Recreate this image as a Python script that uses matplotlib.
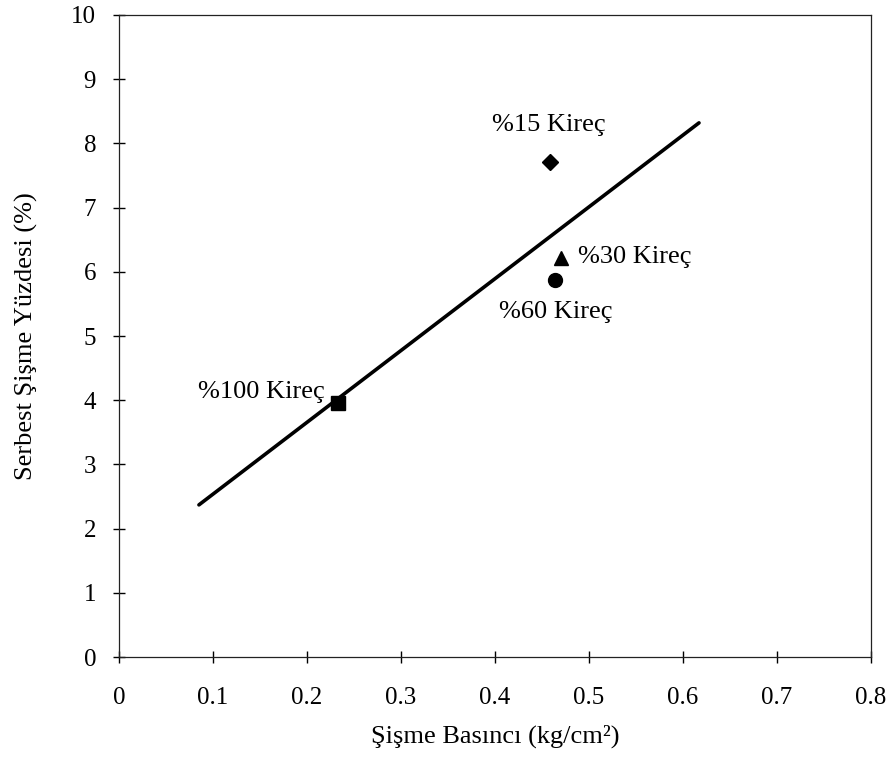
import matplotlib
matplotlib.use('Agg')
import matplotlib.pyplot as plt

plt.rcParams['font.family'] = ['Liberation Serif', 'DejaVu Serif']

# point data (Şişme basıncı, serbest şişme yüzdesi)
labels = ['%15 Kireç', '%30 Kireç', '%60 Kireç', '%100 Kireç']
pressure = [0.459, 0.470, 0.464, 0.233]
swell = [7.71, 6.21, 5.87, 3.96]
markers = ['D', '^', 'o', 's']
marker_sizes = [8.5, 10, 10, 10]

# trend line end points
line_x = [0.085, 0.617]
line_y = [2.37, 8.32]

# label anchor positions
label_x = [0.457, 0.488, 0.465, 0.219]
label_y = [8.29, 6.23, 5.37, 4.13]
label_ha = ['center', 'left', 'center', 'right']

fig = plt.figure(figsize=(8.93, 7.69), dpi=100)
ax = fig.add_axes([0.1333, 0.1456, 0.8421, 0.8349])

ax.plot(line_x, line_y, color='black', linewidth=2.6, solid_capstyle='round')

for x, y, m, ms in zip(pressure, swell, markers, marker_sizes):
    ax.plot(x, y, marker=m, markersize=ms, color='black', linestyle='none', zorder=3)

for lx, ly, txt, ha in zip(label_x, label_y, labels, label_ha):
    ax.text(lx, ly, txt, ha=ha, va='center', fontsize=19)

ax.set_xlim(0, 0.8)
ax.set_ylim(0, 10)
ax.set_xticks([0, 0.1, 0.2, 0.3, 0.4, 0.5, 0.6, 0.7, 0.8])
ax.set_xticklabels(['0', '0.1', '0.2', '0.3', '0.4', '0.5', '0.6', '0.7', '0.8'])
ax.set_yticks(range(0, 11))

ax.tick_params(axis='both', direction='inout', length=9, width=1, labelsize=18)
ax.tick_params(axis='x', pad=17)
ax.tick_params(axis='y', pad=12)

for sp in ax.spines.values():
    sp.set_linewidth(0.9)
    sp.set_color('#222222')

ax.set_xlabel('Şişme Basıncı (kg/cm²)', fontsize=19, labelpad=11)
ax.set_ylabel('Serbest Şişme Yüzdesi (%)', fontsize=19, labelpad=24)

fig.savefig('out.png', dpi=100)
